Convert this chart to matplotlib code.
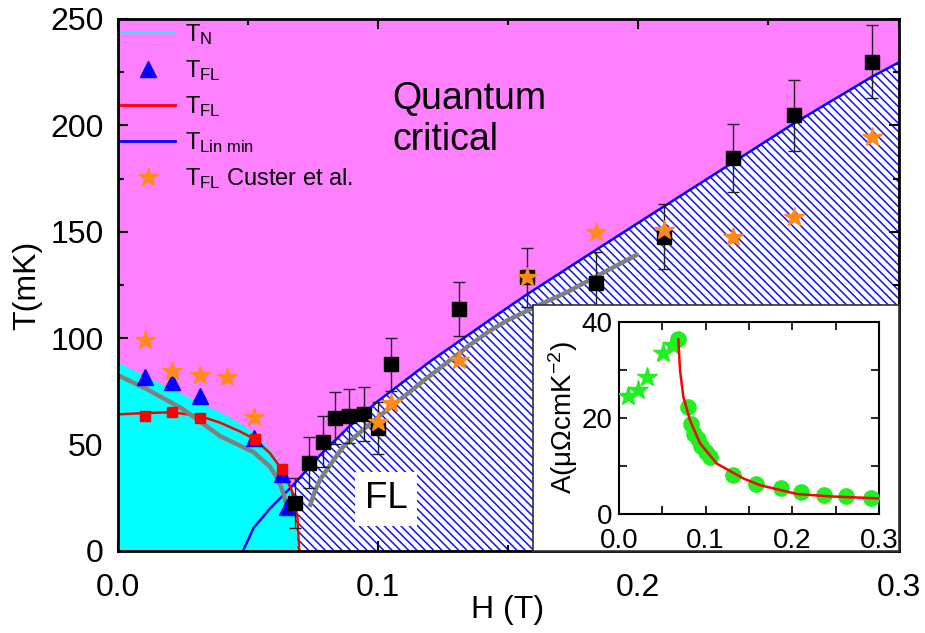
import numpy as np
import matplotlib
matplotlib.use('Agg')
import matplotlib.pyplot as plt
from matplotlib.lines import Line2D

plt.rcParams['font.family'] = ['Liberation Sans', 'DejaVu Sans']
plt.rcParams['mathtext.fontset'] = 'custom'
plt.rcParams['mathtext.rm'] = 'Liberation Sans'
plt.rcParams['mathtext.it'] = 'Liberation Sans'
plt.rcParams['mathtext.default'] = 'regular'
plt.rcParams['hatch.linewidth'] = 1.1

# ---------------- main panel data ----------------
# T_N boundary (cyan region)
tn_h = [0.0, 0.01, 0.02, 0.03, 0.0413, 0.0524, 0.058, 0.063, 0.0665, 0.0682, 0.0688]
tn_t = [88.2, 82.0, 76.0, 70.0, 63.5, 55.3, 48.0, 39.0, 28.0, 15.0, 0.0]

# T_FL fit (red line)
fl_line_h = [0.0, 0.01, 0.021, 0.0317, 0.0394, 0.047, 0.0528, 0.0586, 0.0631, 0.0669, 0.0691, 0.0698]
fl_line_t = [64.2, 64.8, 65.2, 63.4, 60.3, 56.2, 52.5, 45.9, 38.4, 28.7, 16.1, 0.0]

# T_Lin min (blue line)
lin_h = [0.0482, 0.0522, 0.0586, 0.0675, 0.0778, 0.0886, 0.0996, 0.12, 0.147, 0.1572,
         0.1838, 0.21, 0.2363, 0.2599, 0.29, 0.3]
lin_t = [0.0, 10.7, 20.0, 31.0, 45.0, 58.0, 70.0, 89.0, 112.0, 120.5,
         141.5, 162.0, 182.5, 201.0, 223.0, 229.5]

# gray curve, two branches
gray1_h = [0.0, 0.0106, 0.0247, 0.0394, 0.0522, 0.0586, 0.0618, 0.0637, 0.065]
gray1_t = [82.7, 76.5, 67.0, 54.0, 46.5, 39.6, 33.4, 27.1, 20.8]
gray2_h = [0.0738, 0.0755, 0.0778, 0.082, 0.0867, 0.0996, 0.1188, 0.135, 0.143,
           0.15, 0.16, 0.1726, 0.2001]
gray2_t = [20.8, 27.0, 33.5, 41.0, 49.0, 62.4, 81.2, 96.5, 103.5,
           108.5, 114.5, 121.6, 139.6]

# black squares with error bars
sq_h = [0.0682, 0.0737, 0.0788, 0.0836, 0.0891, 0.0946, 0.1, 0.1051, 0.1312,
        0.1572, 0.1838, 0.21, 0.2363, 0.2599, 0.2899]
sq_t = [22.6, 41.5, 51.4, 62.6, 63.4, 64.4, 57.7, 87.7, 113.7,
        128.6, 125.8, 147.7, 184.8, 204.7, 229.9]
sq_err = [11.7, 11.9, 11.9, 12.3, 12.5, 12.6, 12.3, 12.6, 12.9,
          13.9, 14.6, 15.3, 15.9, 16.6, 17.2]

# blue triangles T_FL
tri_h = [0.0106, 0.0211, 0.0317, 0.0526, 0.0631, 0.065]
tri_t = [81.6, 79.6, 72.8, 53.0, 36.0, 20.8]

# red squares
rsq_h = [0.0106, 0.0211, 0.0317, 0.0528, 0.0631]
rsq_t = [63.4, 65.5, 62.6, 52.5, 38.4]

# orange stars, Custer et al.
st_h = [0.0106, 0.0211, 0.0317, 0.0422, 0.0526, 0.1, 0.1051, 0.1312, 0.1572,
        0.1838, 0.21, 0.2363, 0.2599, 0.2899]
st_t = [99.2, 84.7, 82.7, 81.6, 62.8, 60.5, 69.4, 89.8, 128.9,
        150.0, 150.8, 147.7, 156.8, 194.7]

# ---------------- inset data ----------------
in_star_h = [0.0108, 0.0223, 0.032, 0.0511, 0.0608]
in_star_a = [24.5, 25.8, 28.5, 33.4, 35.1]
in_circ_h = [0.0685, 0.0796, 0.083, 0.0865, 0.0912, 0.0951, 0.1009, 0.1048,
             0.1312, 0.1575, 0.187, 0.2103, 0.236, 0.262, 0.2903]
in_circ_a = [36.3, 22.2, 18.8, 16.6, 15.7, 14.1, 12.8, 11.9,
             8.1, 6.2, 5.5, 4.6, 3.9, 3.66, 3.3]
in_fit_h = [0.0685, 0.0704, 0.0742, 0.0819, 0.0935, 0.1127, 0.1434, 0.1627,
            0.2057, 0.2445, 0.3]
in_fit_a = [36.3, 29.9, 24.4, 19.5, 14.7, 10.5, 7.4, 6.0, 4.14, 3.66, 3.24]

# ---------------- figure ----------------
W, H = 925, 633
fig = plt.figure(figsize=(W / 100, H / 100), dpi=100)
ax = fig.add_axes([117.5 / W, 82 / H, 781 / W, 532 / H])
ax.set_xlim(0, 0.3)
ax.set_ylim(0, 250)
ax.set_facecolor('#FF80FF')

ax.fill_between(lin_h, lin_t, 0, facecolor='white', edgecolor='#1010FF',
                hatch='\\\\\\\\', linewidth=0, zorder=1)
ax.fill_between(tn_h, tn_t, 0, facecolor='#00FFFF', linewidth=0, zorder=2)
ax.plot(tn_h, tn_t, color='#00FFFF', lw=1.5, zorder=2)

ax.plot(lin_h, lin_t, color='#0000FF', lw=1.8, zorder=3)
ax.plot(fl_line_h, fl_line_t, color='#FF0000', lw=1.8, zorder=3)
ax.plot(gray1_h, gray1_t, color='#808080', lw=3.2, zorder=4, solid_capstyle='butt')
ax.plot(gray2_h, gray2_t, color='#808080', lw=3.2, zorder=4, solid_capstyle='butt')

ax.plot(tri_h, tri_t, '^', color='#0000FF', ms=12, mec='#0000FF', zorder=5, ls='none')
ax.plot(rsq_h, rsq_t, 's', color='#FF0000', ms=7, zorder=6, ls='none')
ax.errorbar(sq_h, sq_t, yerr=sq_err, fmt='s', color='black', ms=10,
            ecolor='#222222', elinewidth=1.0, capsize=4.5, capthick=1.0, zorder=7)
ax.plot(st_h, st_t, '*', color='#FF8A1C', ms=15, mec='#FF8A1C', zorder=8, ls='none')

ax.text(0.1055, 202.8, 'Quantum\ncritical', fontsize=27, ha='left', va='center',
        linespacing=1.2, zorder=9)
ax.text(0.1031, 24.5, 'FL', fontsize=26.5, ha='center', va='center', zorder=9,
        bbox=dict(facecolor='white', edgecolor='none', pad=7))

ax.set_xticks([0.0, 0.1, 0.2, 0.3])
ax.set_xticklabels(['0.0', '0.1', '0.2', '0.3'])
ax.set_xticks([0.05, 0.15, 0.25], minor=True)
ax.set_yticks([0, 50, 100, 150, 200, 250])
ax.set_yticks([25, 75, 125, 175, 225], minor=True)
ax.tick_params(which='both', direction='in', top=True, right=True, width=1.5,
               labelsize=23)
ax.tick_params(axis='x', which='both', pad=16)
ax.tick_params(axis='y', which='both', pad=10)
ax.tick_params(which='major', length=7)
ax.tick_params(which='minor', length=4)
for s in ax.spines.values():
    s.set_linewidth(2.0)
    s.set_zorder(20)
ax.set_xlabel('H (T)', fontsize=23, labelpad=-6)
ax.set_ylabel('T(mK)', fontsize=23, labelpad=6)

handles = [
    Line2D([], [], color='#00FFFF', lw=1.2),
    Line2D([], [], marker='^', color='#0000FF', ls='none', ms=12),
    Line2D([], [], color='#FF0000', lw=2),
    Line2D([], [], color='#0000FF', lw=2),
    Line2D([], [], marker='*', color='#FF8A1C', ls='none', ms=15),
]
labels = ['T$_{N}$', 'T$_{FL}$', 'T$_{FL}$', 'T$_{Lin\\ min}$', 'T$_{FL}$ Custer et al.']
leg = ax.legend(handles, labels, loc='upper left', frameon=False, fontsize=17,
                handlelength=2.3, handletextpad=0.4, labelspacing=0.47,
                borderaxespad=0.1, borderpad=0.05)
leg.set_zorder(15)

# ---------------- inset ----------------
box = fig.add_axes([533 / W, 82 / H, 365.5 / W, 246 / H])
box.set_facecolor('white')
box.set_xticks([])
box.set_yticks([])
for s in box.spines.values():
    s.set_linewidth(1.2)
    s.set_color('#333333')
box.set_zorder(10)

ins = fig.add_axes([619 / W, 119 / H, 260 / W, 192.3 / H])
ins.set_zorder(11)
ins.set_xlim(0, 0.3)
ins.set_ylim(0, 40)
ins.plot(in_star_h, in_star_a, '*', color='#22EE22', ms=15, ls='none', zorder=3)
ins.plot(in_circ_h, in_circ_a, 'o', color='#22EE22', ms=11, ls='none', zorder=3)
ins.plot(in_fit_h, in_fit_a, color='#FF0000', lw=1.8, zorder=4)
ins.set_xticks([0.0, 0.1, 0.2, 0.3])
ins.set_xticklabels(['0.0', '0.1', '0.2', '0.3'])
ins.set_xticks([0.05, 0.15, 0.25], minor=True)
ins.set_yticks([0, 20, 40])
ins.set_yticks([10, 30], minor=True)
ins.tick_params(which='both', direction='in', top=True, right=True, width=1.2,
                labelsize=20)
ins.tick_params(axis='x', which='both', pad=10)
ins.tick_params(axis='y', which='both', pad=5)
ins.tick_params(which='major', length=6)
ins.tick_params(which='minor', length=6)
for s in ins.spines.values():
    s.set_linewidth(1.5)
ins.set_ylabel('A(μΩcmK$^{-2}$)', fontsize=20, labelpad=1)

fig.savefig('out.png', dpi=100)
